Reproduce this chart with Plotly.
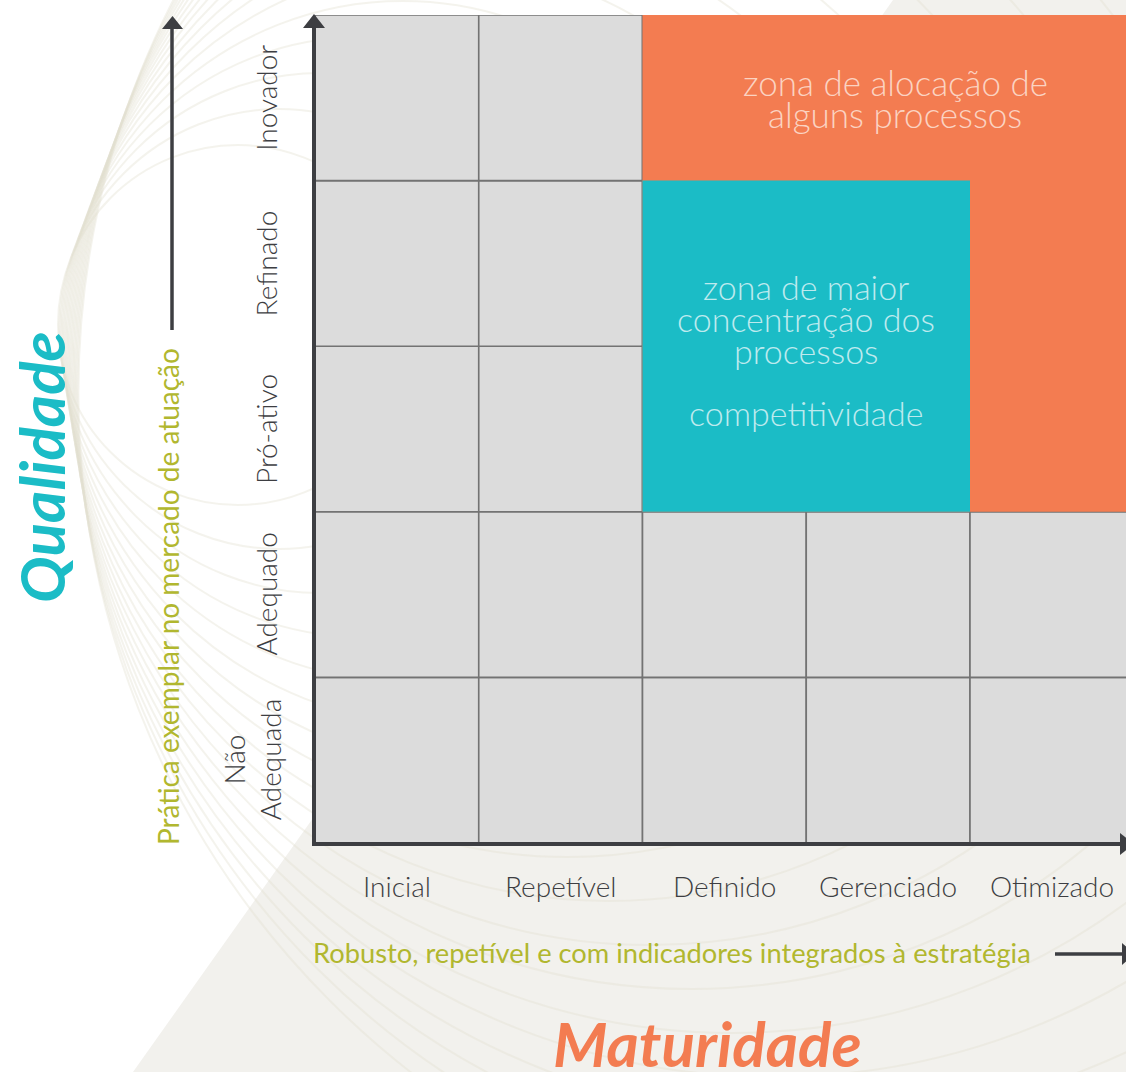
import plotly.graph_objects as go

# ---------------- data ----------------
maturity = ["Inicial", "Repetível", "Definido", "Gerenciado", "Otimizado"]
quality = ["Não<br>Adequada", "Adequado", "Pró-ativo", "Refinado", "Inovador"]

# zones given as (first column, last column, first row, last row) indices
zone_alloc = (2, 4, 2, 4)      # Definido..Otimizado x Pró-ativo..Inovador
zone_conc = (2, 3, 2, 3)       # Definido..Gerenciado x Pró-ativo..Refinado
zone_alloc_lines = ["zona de alocação de", "alguns processos"]
zone_conc_lines = ["zona de maior", "concentração dos", "processos", "", "competitividade"]

x_title = "Maturidade"
y_title = "Qualidade"
x_sub = "Robusto, repetível e com indicadores integrados à estratégia"
y_sub = "Prática exemplar no mercado de atuação"

# ---------------- style ----------------
W, H = 1126, 1072
L, T = 315, 15
PLOT_R, PLOT_B = 1126, 843
PW, PH = PLOT_R - L, PLOT_B - T
COLW = 163.75

FONT = "Lato"
DARK = "#3d3e42"
CELL = "#dcdcdc"
GRID = "#737373"
ORANGE = "#f37c51"
TEAL = "#1bbcc6"
OLIVE = "#b1b72f"
BEIGE = "#f2f1ed"


def pxx(px):
    return (px - L) / PW


def pxy(py):
    return (PLOT_B - py) / PH


fig = go.Figure()
# invisible trace to establish axes
fig.add_trace(go.Scatter(x=[0, 5], y=[0, 5], mode="markers",
                         marker=dict(opacity=0), hoverinfo="skip", showlegend=False))

shapes = []

# background beige wedge
shapes.append(dict(type="path", xref="paper", yref="paper", layer="below",
                   path=f"M {pxx(133)} {pxy(1072)} L {pxx(893)} {pxy(0)} L {pxx(1126)} {pxy(0)} "
                        f"L {pxx(1126)} {pxy(1072)} Z",
                   fillcolor=BEIGE, line=dict(width=0)))

# decorative faint arcs (fan of circles sharing a left-most region)
for k in range(18):
    r = 180 + 40 * k
    lx, ly = 58 + 1.2 * k, 325 + 4 * k
    shapes.append(dict(type="circle", xref="paper", yref="paper", layer="below",
                       x0=pxx(lx), x1=pxx(lx + 2 * r), y0=pxy(ly + r), y1=pxy(ly - r),
                       line=dict(color="rgba(226,224,208,0.38)", width=2)))

# grid cells
for i in range(len(maturity)):
    for j in range(len(quality)):
        shapes.append(dict(type="rect", xref="x", yref="y", x0=i, x1=i + 1, y0=j, y1=j + 1,
                           fillcolor=CELL, line=dict(color=GRID, width=1.6)))

# zones
for (c0, c1, r0, r1), col in [(zone_alloc, ORANGE), (zone_conc, TEAL)]:
    shapes.append(dict(type="rect", xref="x", yref="y", x0=c0, x1=c1 + 1, y0=r0, y1=r1 + 1,
                       fillcolor=col, line=dict(width=0)))

# axis lines
shapes.append(dict(type="line", xref="paper", yref="paper", x0=pxx(314), x1=pxx(314),
                   y0=pxy(846), y1=pxy(22), line=dict(color=DARK, width=4)))
shapes.append(dict(type="line", xref="paper", yref="paper", x0=pxx(312), x1=pxx(1126),
                   y0=pxy(844), y1=pxy(844), line=dict(color=DARK, width=4)))
# arrowheads
shapes.append(dict(type="path", xref="paper", yref="paper",
                   path=f"M {pxx(303)} {pxy(28)} L {pxx(325)} {pxy(28)} L {pxx(314)} {pxy(14)} Z",
                   fillcolor=DARK, line=dict(width=0)))
shapes.append(dict(type="path", xref="paper", yref="paper",
                   path=f"M {pxx(1120)} {pxy(833)} L {pxx(1120)} {pxy(855)} L {pxx(1134)} {pxy(844)} Z",
                   fillcolor=DARK, line=dict(width=0)))
# secondary arrows
shapes.append(dict(type="line", xref="paper", yref="paper", x0=pxx(172), x1=pxx(172),
                   y0=pxy(330), y1=pxy(26), line=dict(color=DARK, width=3.5)))
shapes.append(dict(type="path", xref="paper", yref="paper",
                   path=f"M {pxx(162)} {pxy(29)} L {pxx(183)} {pxy(29)} L {pxx(172.5)} {pxy(16)} Z",
                   fillcolor=DARK, line=dict(width=0)))
shapes.append(dict(type="line", xref="paper", yref="paper", x0=pxx(1055), x1=pxx(1122),
                   y0=pxy(954), y1=pxy(954), line=dict(color=DARK, width=3.5)))
shapes.append(dict(type="path", xref="paper", yref="paper",
                   path=f"M {pxx(1122)} {pxy(943)} L {pxx(1122)} {pxy(965)} L {pxx(1135)} {pxy(954)} Z",
                   fillcolor=DARK, line=dict(width=0)))

annotations = []
# x tick labels
for i, lab in enumerate(maturity):
    annotations.append(dict(x=i + 0.5, y=pxy(886), xref="x", yref="paper", text=lab,
                            showarrow=False, xanchor="center", yanchor="middle",
                            font=dict(family=FONT, size=28, color=DARK, weight=300)))
# y tick labels (rotated)
for j, lab in enumerate(quality):
    xc = 252 if "<br>" in lab else 266
    annotations.append(dict(x=pxx(xc), y=j + 0.5, xref="paper", yref="y", text=lab,
                            showarrow=False, textangle=-90, xanchor="center", yanchor="middle",
                            align="center",
                            font=dict(family=FONT, size=28, color=DARK, weight=300)))

# secondary subtitles
annotations.append(dict(x=pxx(311), y=pxy(953), xref="paper", yref="paper", text=x_sub,
                        showarrow=False, xanchor="left", yanchor="middle",
                        font=dict(family=FONT, size=27.3, color=OLIVE, weight=400)))
annotations.append(dict(x=pxx(168), y=pxy(597), xref="paper", yref="paper", text=y_sub,
                        showarrow=False, textangle=-90, xanchor="center", yanchor="middle",
                        font=dict(family=FONT, size=28, color=OLIVE, weight=400)))

# main titles
annotations.append(dict(x=pxx(707), y=pxy(1043), xref="paper", yref="paper",
                        text=f"<b><i>{x_title}</i></b>", showarrow=False,
                        xanchor="center", yanchor="middle",
                        font=dict(family=FONT, size=62, color=ORANGE)))
annotations.append(dict(x=pxx(41), y=pxy(467), xref="paper", yref="paper",
                        text=f"<b><i>{y_title}</i></b>", showarrow=False, textangle=-90,
                        xanchor="center", yanchor="middle",
                        font=dict(family=FONT, size=62, color=TEAL)))

# zone texts
c0, c1, r0, r1 = zone_alloc
for k, line in enumerate(zone_alloc_lines):
    annotations.append(dict(x=(c0 + c1 + 1) / 2, y=r1 + 0.5, xref="x", yref="y", text=line,
                            showarrow=False, xanchor="center", yanchor="middle",
                            xshift=7, yshift=16 - 32 * k,
                            font=dict(family=FONT, size=35, color="#fbd3c2", weight=300)))
c0, c1, r0, r1 = zone_conc
for k, line in enumerate(zone_conc_lines):
    if not line:
        continue
    shift = [60, 28, -4, -34, -66][k]
    annotations.append(dict(x=(c0 + c1 + 1) / 2, y=(r0 + r1 + 1) / 2, xref="x", yref="y",
                            text=line, showarrow=False, xanchor="center", yanchor="middle",
                            yshift=shift,
                            font=dict(family=FONT, size=34, color="#bdeaee", weight=300)))

fig.update_layout(
    width=W, height=H,
    margin=dict(l=L, r=W - PLOT_R, t=T, b=H - PLOT_B, pad=0),
    paper_bgcolor="white", plot_bgcolor="rgba(0,0,0,0)",
    xaxis=dict(range=[0, PW / COLW], visible=False, fixedrange=True),
    yaxis=dict(range=[0, 5], visible=False, fixedrange=True),
    shapes=shapes, annotations=annotations, showlegend=False,
)

fig.write_html("out.html", config={"displayModeBar": False},
               post_script="document.body.style.margin='0px';document.body.style.overflow='hidden';")
